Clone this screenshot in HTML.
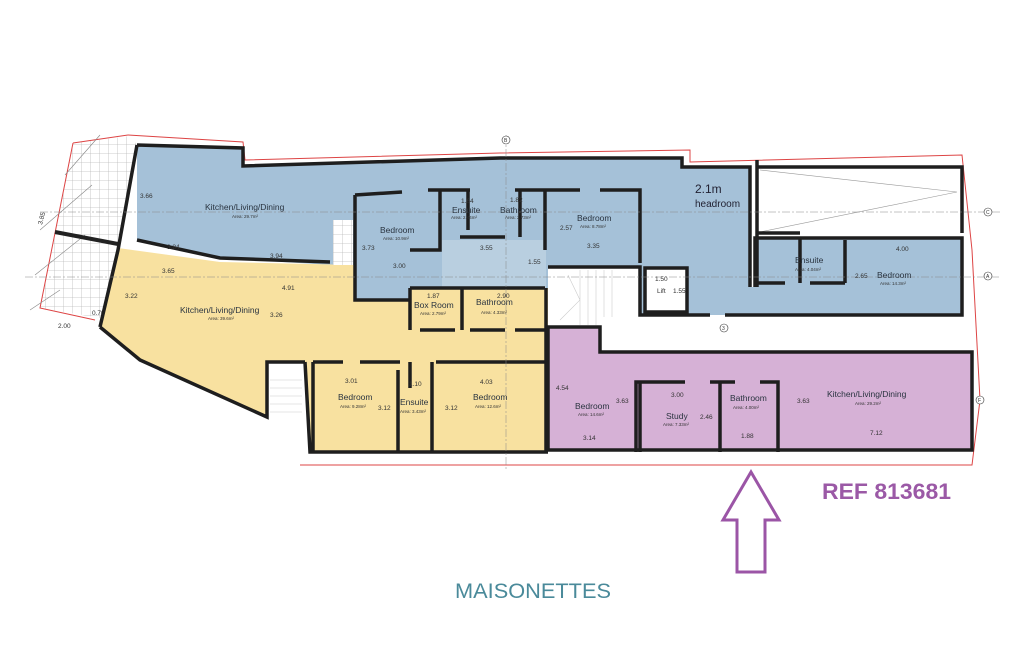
<!DOCTYPE html>
<html><head><meta charset="utf-8"><style>
html,body{margin:0;padding:0;background:#fff;}
svg{display:block;}
text{font-family:"Liberation Sans",sans-serif;}
.rn{font-size:8.5px;fill:#2a3440;}
.ar{font-size:4.5px;fill:#333;}
.dm{font-size:6.5px;fill:#333;}
</style></head><body>
<svg width="1024" height="653" viewBox="0 0 1024 653" xmlns="http://www.w3.org/2000/svg">
<defs>
<pattern id="grid" width="9" height="9" patternUnits="userSpaceOnUse">
<rect width="9" height="9" fill="#fff"/>
<path d="M0 0H9M0 0V9" stroke="#bbb" stroke-width="0.8"/>
</pattern>
</defs>
<polygon points="73,143 130,136 137,145 118,250 100,318 40,308" fill="url(#grid)"/>
<polyline points="73,143 128,135" stroke="#d44" fill="none" stroke-width="1"/>
<polyline points="73,143 40,308 95,320" stroke="#d44" fill="none" stroke-width="1"/>
<path d="M100,135 L65,175 M92,185 L40,230 M85,235 L35,275 M60,290 L30,310" stroke="#888" stroke-width="0.6" fill="none"/>
<line x1="55" y1="232" x2="118" y2="244" stroke="#222" stroke-width="4"/>
<text x="42" y="225" class="dm" transform="rotate(-75 42 225)">3.85</text>
<text x="58" y="328" class="dm">2.00</text>
<text x="92" y="315" class="dm">0.70</text>
<polyline points="128,135 243,142 245,160 500,153 690,150 690,162 962,155 972,250 980,400 972,465 300,465" stroke="#d44" fill="none" stroke-width="1"/>
<polygon points="137,145 243,148 243,166 500,158 682,158 682,167 750,167 750,287 755,287 755,238 962,238 962,315 640,315 640,267 548,267 548,288 410,288 410,300 355,300 355,265 330,265 220,258 137,240" fill="#a5c1d8"/>
<rect x="442" y="240" width="104" height="48" fill="#b9cfe0"/>
<polygon points="118,248 220,262 355,265 355,300 410,300 410,288 548,288 548,452 310,452 305,362 267,362 267,417 140,360 100,327" fill="#f8e1a0"/>
<polygon points="548,327 600,327 600,352 972,352 972,450 548,450" fill="#d6b1d6"/>
<rect x="757" y="167" width="205" height="66" fill="#fff"/>
<path d="M760,170 L957,192 L760,232" stroke="#999" fill="none" stroke-width="0.6"/>
<rect x="548" y="267" width="92" height="58" fill="#fff"/>
<g stroke="#ccc" stroke-width="0.6" fill="none"><path d="M580,270V325M588,270V325M596,270V325M604,270V325M612,270V325M568,275L580,300L560,320"/></g>
<rect x="600" y="317" width="372" height="33" fill="#fff"/>
<rect x="645" y="268" width="42" height="44" fill="#fff"/>
<rect x="267" y="362" width="38" height="56" fill="#fff"/>
<g stroke="#ccc" stroke-width="0.6" fill="none"><path d="M270,380H302M270,388H302M270,396H302M270,404H302M270,412H302"/></g>
<rect x="333" y="220" width="20" height="45" fill="url(#grid)"/>
<path stroke="#1e1e1e" stroke-width="3.5" fill="none" d="
M137,145 L243,148 L243,166 L500,158 L682,158 L682,167 L750,167 L750,287
M137,145 L118,250 L100,327
M137,240 L220,258 L330,262
M100,327 L140,360 L267,417 L267,362 L305,362
M305,362 L310,452 L548,452
M355,265 L355,300 L410,300
M355,195 L355,265
M355,195 L402,192
M428,190 L470,190
M440,190 L440,250 L410,250
M410,288 L410,330
M410,288 L545,288
M462,288 L462,330
M420,330 L455,330 M470,330 L505,330 M515,330 L545,330
M468,190 L468,230 M460,237 L505,237 M520,190 L520,237 M515,190 L580,190
M545,190 L545,250
M600,190 L640,190 L640,263
M313,362 L343,362 M360,362 L400,362 M436,362 L545,362
M313,362 L313,452 M398,370 L398,452 M432,362 L432,452 M410,362 L410,388
M546,288 L546,452
M548,267 L640,267 L640,315 L710,315 M725,315 L962,315 L962,238 L755,238 L755,287
M757,167 L962,167 L962,233
M757,233 L800,233 M757,160 L757,287 M800,238 L800,283 M755,283 L785,283 M810,283 L845,283 M845,240 L845,283
M645,268 L687,268 L687,312 L645,312 Z
M600,327 L600,352 L972,352 L972,450 L548,450 L548,327 Z
M636,452 L636,382 L685,382 M710,382 L735,382 M720,382 L720,452 M760,382 L778,382 L778,452
M640,382 L640,452"/>
<g stroke="#888" stroke-width="0.5" stroke-dasharray="8 2 2 2" fill="none">
<line x1="40" y1="212" x2="1000" y2="212"/>
<line x1="25" y1="277" x2="1000" y2="277"/>
<line x1="506" y1="135" x2="506" y2="470"/>
</g>
<g font-size="5" fill="#333">
<circle cx="506" cy="140" r="4" fill="#fff" stroke="#333" stroke-width="0.6"/><text x="504" y="142">B</text>
<circle cx="988" cy="212" r="4" fill="#fff" stroke="#333" stroke-width="0.6"/><text x="986" y="214">C</text>
<circle cx="988" cy="276" r="4" fill="#fff" stroke="#333" stroke-width="0.6"/><text x="986" y="278">A</text>
<circle cx="980" cy="400" r="4" fill="#fff" stroke="#333" stroke-width="0.6"/><text x="978" y="402">F</text>
<circle cx="724" cy="328" r="4" fill="#fff" stroke="#333" stroke-width="0.6"/><text x="722" y="330">3</text>
</g>
<text x="205" y="210" class="rn">Kitchen/Living/Dining</text><text x="232" y="218" class="ar">Area: 29.7m²</text>
<text x="140" y="198" class="dm">3.66</text><text x="167" y="249" class="dm">3.84</text><text x="270" y="258" class="dm">3.94</text>
<text x="380" y="233" class="rn">Bedroom</text><text x="383" y="240" class="ar">Area: 10.9m²</text>
<text x="362" y="250" class="dm">3.73</text><text x="393" y="268" class="dm">3.00</text>
<text x="452" y="213" class="rn">Ensuite</text><text x="451" y="219" class="ar">Area: 2.44m²</text><text x="461" y="203" class="dm">1.64</text>
<text x="500" y="213" class="rn">Bathroom</text><text x="505" y="219" class="ar">Area: 2.73m²</text><text x="510" y="202" class="dm">1.82</text>
<text x="577" y="221" class="rn">Bedroom</text><text x="580" y="228" class="ar">Area: 8.78m²</text>
<text x="560" y="230" class="dm">2.57</text><text x="587" y="248" class="dm">3.35</text>
<text x="480" y="250" class="dm">3.55</text><text x="528" y="264" class="dm">1.55</text>
<text x="695" y="193" font-size="12" fill="#223">2.1m</text><text x="695" y="207" font-size="10" fill="#223">headroom</text>
<text x="655" y="281" class="dm">1.50</text><text x="673" y="293" class="dm">1.55</text><text x="657" y="293" class="dm">Lift</text>
<text x="795" y="263" class="rn">Ensuite</text><text x="795" y="271" class="ar">Area: 4.04m²</text>
<text x="877" y="278" class="rn">Bedroom</text><text x="880" y="285" class="ar">Area: 14.3m²</text>
<text x="896" y="251" class="dm">4.00</text><text x="855" y="278" class="dm">2.65</text>
<text x="180" y="313" class="rn">Kitchen/Living/Dining</text><text x="208" y="320" class="ar">Area: 39.6m²</text>
<text x="125" y="298" class="dm">3.22</text><text x="162" y="273" class="dm">3.65</text><text x="282" y="290" class="dm">4.91</text><text x="270" y="317" class="dm">3.26</text>
<text x="414" y="308" class="rn">Box Room</text><text x="420" y="315" class="ar">Area: 2.79m²</text><text x="427" y="298" class="dm">1.87</text>
<text x="476" y="305" class="rn" fill="#666">Bathroom</text><text x="481" y="314" class="ar">Area: 4.33m²</text><text x="497" y="298" class="dm">2.90</text>
<text x="338" y="400" class="rn">Bedroom</text><text x="340" y="408" class="ar">Area: 9.28m²</text><text x="345" y="383" class="dm">3.01</text><text x="378" y="410" class="dm">3.12</text>
<text x="400" y="405" class="rn">Ensuite</text><text x="400" y="413" class="ar">Area: 3.43m²</text><text x="409" y="386" class="dm">1.10</text>
<text x="473" y="400" class="rn">Bedroom</text><text x="475" y="408" class="ar">Area: 12.6m²</text><text x="480" y="384" class="dm">4.03</text><text x="445" y="410" class="dm">3.12</text>
<text x="575" y="409" class="rn">Bedroom</text><text x="578" y="416" class="ar">Area: 14.6m²</text>
<text x="556" y="390" class="dm">4.54</text><text x="616" y="403" class="dm">3.63</text><text x="583" y="440" class="dm">3.14</text>
<text x="666" y="419" class="rn">Study</text><text x="663" y="426" class="ar">Area: 7.33m²</text><text x="671" y="397" class="dm">3.00</text><text x="700" y="419" class="dm">2.46</text>
<text x="730" y="401" class="rn">Bathroom</text><text x="733" y="409" class="ar">Area: 4.00m²</text><text x="741" y="438" class="dm">1.88</text>
<text x="827" y="397" class="rn">Kitchen/Living/Dining</text><text x="855" y="405" class="ar">Area: 29.2m²</text>
<text x="797" y="403" class="dm">3.63</text><text x="870" y="435" class="dm">7.12</text>
<polygon points="751,472 779,520 765,520 765,572 737,572 737,520 723,520" fill="none" stroke="#9b55a6" stroke-width="3"/>
<text x="822" y="499" font-size="22" font-weight="bold" fill="#9b59a6" textLength="129" lengthAdjust="spacingAndGlyphs">REF 813681</text>
<text x="455" y="598" font-size="21" fill="#4a8a9a" textLength="156" lengthAdjust="spacingAndGlyphs">MAISONETTES</text>
</svg>
</body></html>
